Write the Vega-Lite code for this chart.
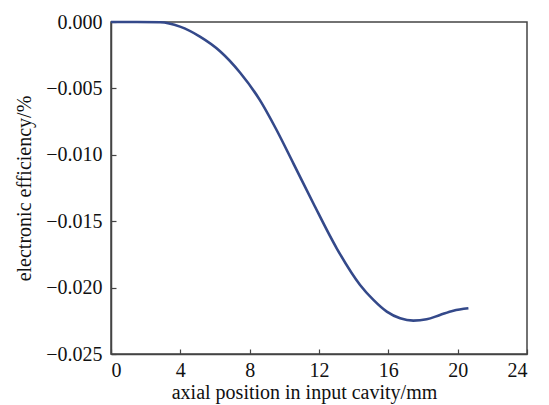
{
  "$schema": "https://vega.github.io/schema/vega-lite/v6.json",
  "width": 416,
  "height": 332,
  "autosize": {"type": "none"},
  "padding": {"left": 111, "top": 22, "right": 22, "bottom": 51},
  "background": "white",
  "config": {
    "view": {"stroke": "#444444", "strokeWidth": 1.5},
    "font": "Liberation Serif",
    "axis": {
      "grid": false,
      "domainColor": "#444444",
      "domainWidth": 1.5,
      "tickColor": "#444444",
      "tickSize": -5,
      "tickWidth": 1.2,
      "labelFont": "Liberation Serif",
      "labelFontSize": 20,
      "labelColor": "#111111",
      "titleFont": "Liberation Serif",
      "titleFontSize": 20,
      "titleFontWeight": "normal",
      "titleColor": "#111111"
    }
  },
  "data": {
    "values": [
      {"x": 0, "y": 0},
      {"x": 1.5, "y": 0},
      {"x": 2.83, "y": -0.00002},
      {"x": 3.98, "y": -0.00035},
      {"x": 5.13, "y": -0.0011},
      {"x": 6.29, "y": -0.0022},
      {"x": 7.44, "y": -0.0038},
      {"x": 8.6, "y": -0.0059},
      {"x": 9.5, "y": -0.008},
      {"x": 10.52, "y": -0.01064},
      {"x": 11.67, "y": -0.01365},
      {"x": 13.02, "y": -0.01704},
      {"x": 14.37, "y": -0.0198},
      {"x": 15.14, "y": -0.02093},
      {"x": 15.91, "y": -0.02181},
      {"x": 16.68, "y": -0.02231},
      {"x": 17.44, "y": -0.02249},
      {"x": 18.21, "y": -0.02239},
      {"x": 18.98, "y": -0.02206},
      {"x": 19.75, "y": -0.02174},
      {"x": 20.62, "y": -0.02156}
    ]
  },
  "mark": {"type": "line", "interpolate": "monotone", "color": "#34498a", "strokeWidth": 2.6},
  "encoding": {
    "x": {
      "field": "x",
      "type": "quantitative",
      "scale": {"domain": [0, 24], "nice": false},
      "axis": {"values": [0, 4, 8, 12, 16, 20, 24], "title": "axial position in input cavity/mm", "labelPadding": 11, "titlePadding": 2, "titleX": 193}
    },
    "y": {
      "field": "y",
      "type": "quantitative",
      "scale": {"domain": [-0.025, 0], "nice": false},
      "axis": {"values": [0, -0.005, -0.01, -0.015, -0.02, -0.025], "format": ".3f", "title": "electronic efficiency/%", "labelPadding": 14, "titlePadding": 11}
    }
  }
}
